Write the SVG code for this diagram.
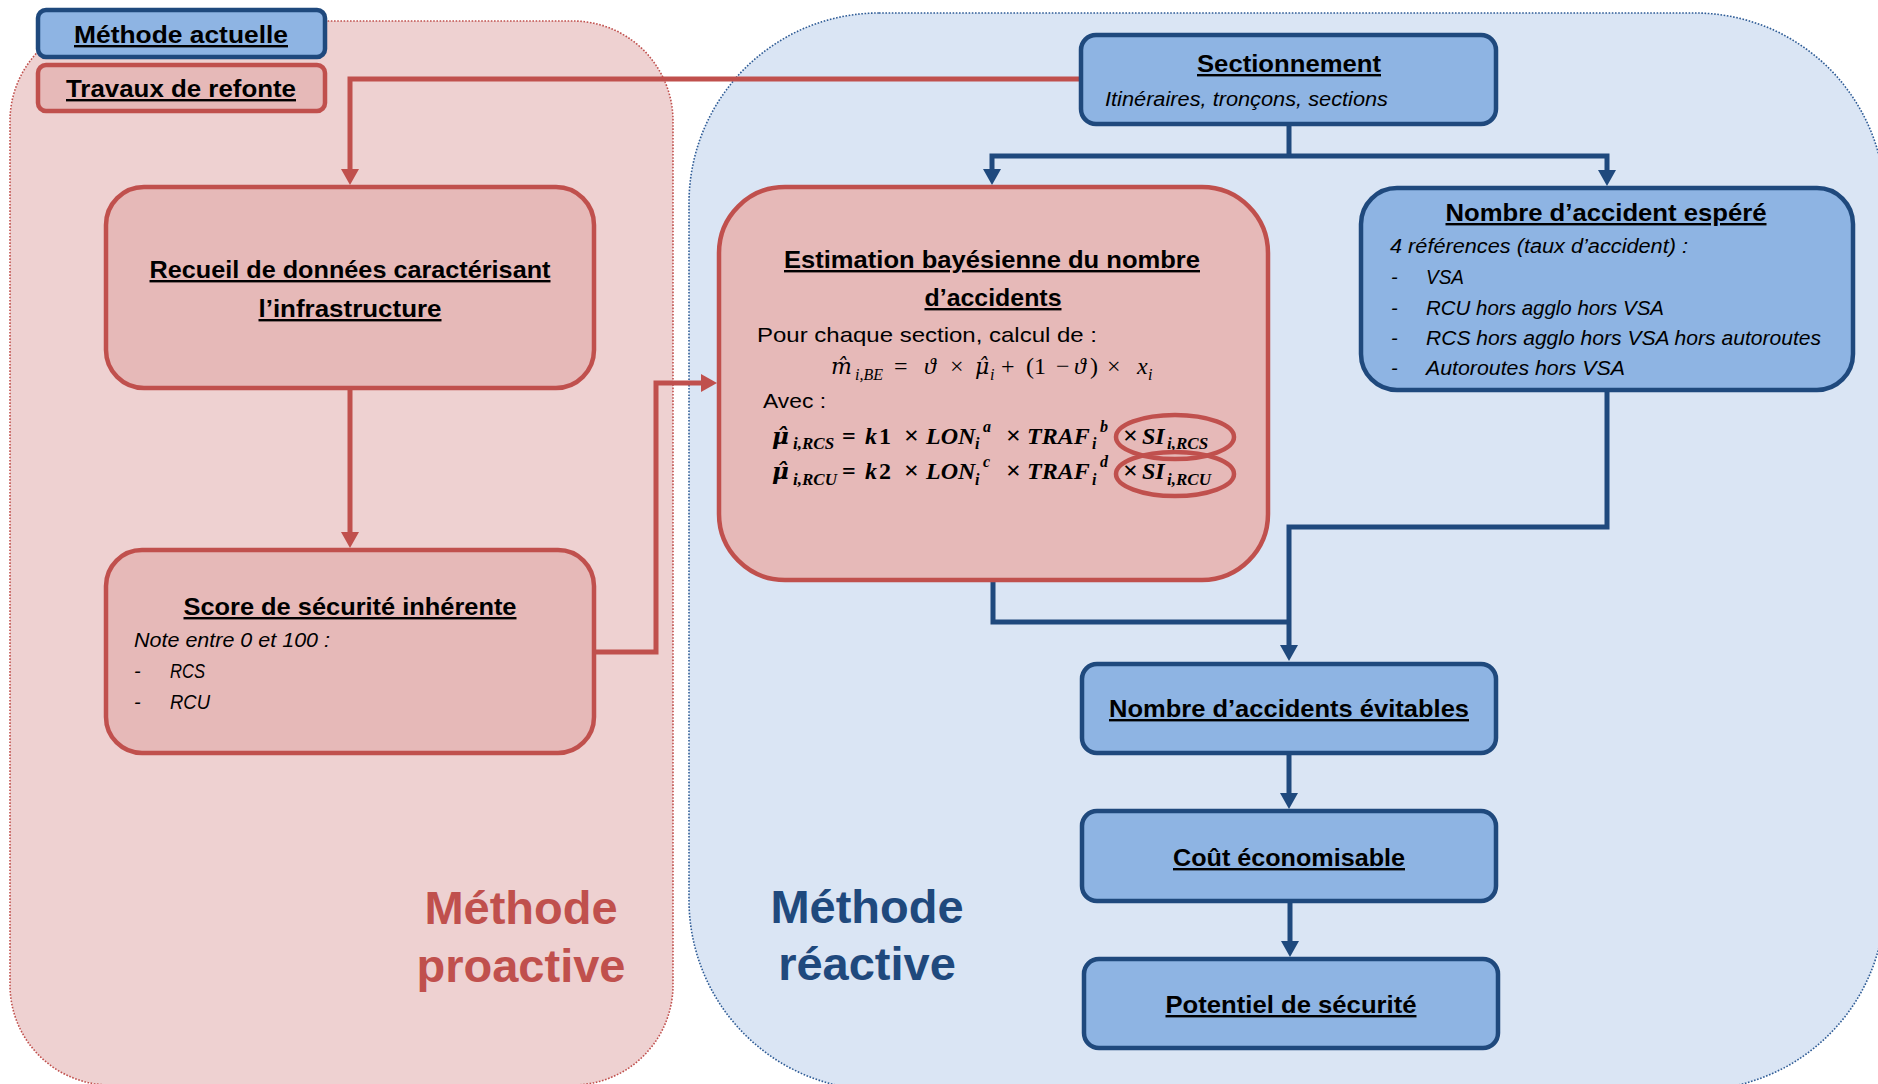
<svg xmlns="http://www.w3.org/2000/svg" width="1878" height="1084" viewBox="0 0 1878 1084">
  <style>
    .t { font-family: "Liberation Sans", Arial, "DejaVu Sans", sans-serif; fill: #000; }
    .title { font-weight: bold; text-decoration: underline; text-anchor: middle; font-size: 24px; }
    .it { font-style: italic; font-size: 20px; }
    .body { font-size: 21px; }
    .math { font-family: "Liberation Serif", "DejaVu Serif", serif; font-style: italic; fill: #000; }
    .acc { font-family: "DejaVu Serif", serif; }
    .up { font-style: normal; }
    .times { font-style: normal; font-size: 26px; }
    .big { font-family: "Liberation Sans", Arial, sans-serif; font-weight: bold; font-size: 47px; text-anchor: middle; }
    .nb { fill: #8EB4E3; stroke: #1F497D; stroke-width: 4.5; }
    .nr { fill: #E6B9B8; stroke: #C0504D; stroke-width: 4.5; }
    .cb { fill: none; stroke: #1F497D; stroke-width: 5; stroke-linejoin: miter; }
    .cr { fill: none; stroke: #C0504D; stroke-width: 5; stroke-linejoin: miter; }
  </style>
  <defs>
    <marker id="arrow-blue" markerUnits="userSpaceOnUse" markerWidth="18" markerHeight="18" viewBox="0 0 16 18" refX="8" refY="9" orient="auto">
      <path d="M0,0 L16,9 L0,18 Z" fill="#1F497D"/>
    </marker>
    <marker id="arrow-red" markerUnits="userSpaceOnUse" markerWidth="18" markerHeight="18" viewBox="0 0 16 18" refX="8" refY="9" orient="auto">
      <path d="M0,0 L16,9 L0,18 Z" fill="#C0504D"/>
    </marker>
  </defs>

  <rect x="0" y="0" width="1878" height="1084" fill="#FFFFFF"/>

  <!-- Background areas -->
  <g id="region-proactive">
    <rect x="10" y="21" width="663" height="1064" rx="100" ry="100" fill="#EED1D1" stroke="#C0504D" stroke-width="1.6" stroke-dasharray="1.6 1.6"/>
    <text class="big" x="521" y="924" fill="#C0504D">Méthode</text>
    <text class="big" x="521" y="982" fill="#C0504D">proactive</text>
  </g>
  <g id="region-reactive">
    <rect x="689" y="13" width="1196" height="1077" rx="190" ry="190" fill="#DAE5F4" stroke="#2F5C96" stroke-width="1.6" stroke-dasharray="1.6 1.6"/>
    <text class="big" x="867" y="923" fill="#1F497D">Méthode</text>
    <text class="big" x="867" y="980" fill="#1F497D">réactive</text>
  </g>

  <!-- Legend -->
  <g id="legend-methode-actuelle">
    <rect class="nb" x="38" y="10" width="287" height="47" rx="8"/>
    <text class="t title" x="181" y="43" font-size="25" textLength="214" lengthAdjust="spacingAndGlyphs">Méthode actuelle</text>
  </g>
  <g id="legend-travaux-refonte">
    <rect class="nr" x="38" y="65" width="287" height="46" rx="8"/>
    <text class="t title" x="181" y="97" textLength="230" lengthAdjust="spacingAndGlyphs">Travaux de refonte</text>
  </g>

  <!-- Connectors -->
  <g id="connectors">
    <path class="cr" d="M1081,79 H350 V177" marker-end="url(#arrow-red)"/>
    <path class="cr" d="M350,390 V540" marker-end="url(#arrow-red)"/>
    <path class="cr" d="M596,652 H656 V383 H709" marker-end="url(#arrow-red)"/>
    <path class="cb" d="M1289,126 V156"/>
    <path class="cb" d="M1289,156 H992 V177" marker-end="url(#arrow-blue)"/>
    <path class="cb" d="M1289,156 H1607 V178" marker-end="url(#arrow-blue)"/>
    <path class="cb" d="M1607,392 V527 H1289 V653" marker-end="url(#arrow-blue)"/>
    <path class="cb" d="M993,582 V622 H1289"/>
    <path class="cb" d="M1289,755 V801" marker-end="url(#arrow-blue)"/>
    <path class="cb" d="M1290,903 V949" marker-end="url(#arrow-blue)"/>
  </g>

  <!-- Nodes -->
  <g id="node-sectionnement">
    <rect class="nb" x="1081" y="35" width="415" height="89" rx="15"/>
    <text class="t title" x="1289" y="72" font-size="26" textLength="184" lengthAdjust="spacingAndGlyphs">Sectionnement</text>
    <text class="t it" x="1105" y="106" font-size="21" textLength="283" lengthAdjust="spacingAndGlyphs">Itinéraires, tronçons, sections</text>
  </g>

  <g id="node-recueil">
    <rect class="nr" x="106" y="187" width="488" height="201" rx="38"/>
    <text class="t title" x="350" y="278" textLength="401" lengthAdjust="spacingAndGlyphs">Recueil de données caractérisant</text>
    <text class="t title" x="350" y="317" textLength="183" lengthAdjust="spacingAndGlyphs">l’infrastructure</text>
  </g>

  <g id="node-score">
    <rect class="nr" x="106" y="550" width="488" height="203" rx="36"/>
    <text class="t title" x="350" y="615" textLength="333" lengthAdjust="spacingAndGlyphs">Score de sécurité inhérente</text>
    <text class="t it" x="134" y="647" textLength="196" lengthAdjust="spacingAndGlyphs">Note entre 0 et 100 :</text>
    <text class="t it" x="134" y="678">-</text>
    <text class="t it" x="170" y="678" textLength="35" lengthAdjust="spacingAndGlyphs">RCS</text>
    <text class="t it" x="134" y="709">-</text>
    <text class="t it" x="170" y="709" textLength="40" lengthAdjust="spacingAndGlyphs">RCU</text>
  </g>

  <g id="node-estimation">
    <rect class="nr" x="719" y="187" width="549" height="393" rx="66"/>
    <text class="t title" x="992" y="268" textLength="416" lengthAdjust="spacingAndGlyphs">Estimation bayésienne du nombre</text>
    <text class="t title" x="993" y="306" textLength="137" lengthAdjust="spacingAndGlyphs">d’accidents</text>
    <text class="t body" x="757" y="342" textLength="340" lengthAdjust="spacingAndGlyphs">Pour chaque section, calcul de :</text>

    <!-- m̂_{i,BE} = ϑ × μ̂_i + (1 − ϑ) × x_i ; hats are combining circumflexes -->
    <text class="math" font-size="24" y="374">
      <tspan class="acc" x="831" font-size="22">m&#x302;</tspan><tspan x="855" y="380" font-size="16">i,BE</tspan><tspan class="up" x="894" y="374">=</tspan><tspan x="924">ϑ</tspan><tspan class="up" x="950">×</tspan><tspan class="acc" x="975" font-size="22">μ&#x302;</tspan><tspan x="990" y="380" font-size="16">i</tspan><tspan class="up" x="1001" y="374">+</tspan><tspan class="up" x="1026">(1</tspan><tspan class="up" x="1056">−</tspan><tspan x="1074">ϑ</tspan><tspan class="up" x="1090">)</tspan><tspan class="up" x="1107">×</tspan><tspan x="1137">x</tspan><tspan x="1148" y="380" font-size="16">i</tspan>
    </text>

    <text class="t body" x="763" y="408" textLength="63" lengthAdjust="spacingAndGlyphs">Avec :</text>

    <!-- μ̂_{i,RCS} = k1 × LON_i^a × TRAF_i^b × SI_{i,RCS} -->
    <text class="math" font-size="24" font-weight="bold" y="444">
      <tspan class="acc" x="772" font-size="23">μ&#x302;</tspan><tspan x="793" y="449" font-size="17">i,RCS</tspan><tspan class="up" x="842" y="444">=</tspan><tspan x="865">k</tspan><tspan class="up" x="879">1</tspan><tspan class="times" x="904">×</tspan><tspan x="926">LON</tspan><tspan x="975" y="449" font-size="16">i</tspan><tspan x="983" y="432" font-size="16">a</tspan><tspan class="times" x="1006" y="444">×</tspan><tspan x="1027">TRAF</tspan><tspan x="1092" y="449" font-size="16">i</tspan><tspan x="1100" y="432" font-size="16">b</tspan><tspan class="times" x="1123" y="444">×</tspan><tspan x="1142">SI</tspan><tspan x="1167" y="449" font-size="17">i,RCS</tspan>
    </text>

    <!-- μ̂_{i,RCU} = k2 × LON_i^c × TRAF_i^d × SI_{i,RCU} -->
    <text class="math" font-size="24" font-weight="bold" y="479">
      <tspan class="acc" x="772" font-size="23">μ&#x302;</tspan><tspan x="793" y="485" font-size="17">i,RCU</tspan><tspan class="up" x="842" y="479">=</tspan><tspan x="865">k</tspan><tspan class="up" x="879">2</tspan><tspan class="times" x="904">×</tspan><tspan x="926">LON</tspan><tspan x="975" y="485" font-size="16">i</tspan><tspan x="983" y="467" font-size="16">c</tspan><tspan class="times" x="1006" y="479">×</tspan><tspan x="1027">TRAF</tspan><tspan x="1092" y="485" font-size="16">i</tspan><tspan x="1100" y="467" font-size="16">d</tspan><tspan class="times" x="1123" y="479">×</tspan><tspan x="1142">SI</tspan><tspan x="1167" y="485" font-size="17">i,RCU</tspan>
    </text>

    <ellipse cx="1175" cy="437" rx="59" ry="22" fill="none" stroke="#C0504D" stroke-width="4.5"/>
    <ellipse cx="1175" cy="474" rx="59" ry="22" fill="none" stroke="#C0504D" stroke-width="4.5"/>
  </g>

  <g id="node-accident-espere">
    <rect class="nb" x="1361" y="188" width="492" height="202" rx="36"/>
    <text class="t title" x="1606" y="221" textLength="321" lengthAdjust="spacingAndGlyphs">Nombre d’accident espéré</text>
    <text class="t it" x="1390" y="253" font-size="19" textLength="298" lengthAdjust="spacingAndGlyphs">4 références (taux d’accident) :</text>
    <text class="t it" x="1391" y="284" font-size="19">-</text>
    <text class="t it" x="1426" y="284" font-size="19" textLength="38" lengthAdjust="spacingAndGlyphs">VSA</text>
    <text class="t it" x="1391" y="315" font-size="19">-</text>
    <text class="t it" x="1426" y="315" font-size="19" textLength="238" lengthAdjust="spacingAndGlyphs">RCU hors agglo hors VSA</text>
    <text class="t it" x="1391" y="345" font-size="19">-</text>
    <text class="t it" x="1426" y="345" font-size="19" textLength="395" lengthAdjust="spacingAndGlyphs">RCS hors agglo hors VSA hors autoroutes</text>
    <text class="t it" x="1391" y="375" font-size="19">-</text>
    <text class="t it" x="1426" y="375" font-size="19" textLength="199" lengthAdjust="spacingAndGlyphs">Autoroutes hors VSA</text>
  </g>

  <g id="node-accidents-evitables">
    <rect class="nb" x="1082" y="664" width="414" height="89" rx="15"/>
    <text class="t title" x="1289" y="717" textLength="360" lengthAdjust="spacingAndGlyphs">Nombre d’accidents évitables</text>
  </g>

  <g id="node-cout">
    <rect class="nb" x="1082" y="811" width="414" height="90" rx="15"/>
    <text class="t title" x="1289" y="866" textLength="232" lengthAdjust="spacingAndGlyphs">Coût économisable</text>
  </g>

  <g id="node-potentiel">
    <rect class="nb" x="1084" y="959" width="414" height="89" rx="15"/>
    <text class="t title" x="1291" y="1013" textLength="251" lengthAdjust="spacingAndGlyphs">Potentiel de sécurité</text>
  </g>
</svg>
